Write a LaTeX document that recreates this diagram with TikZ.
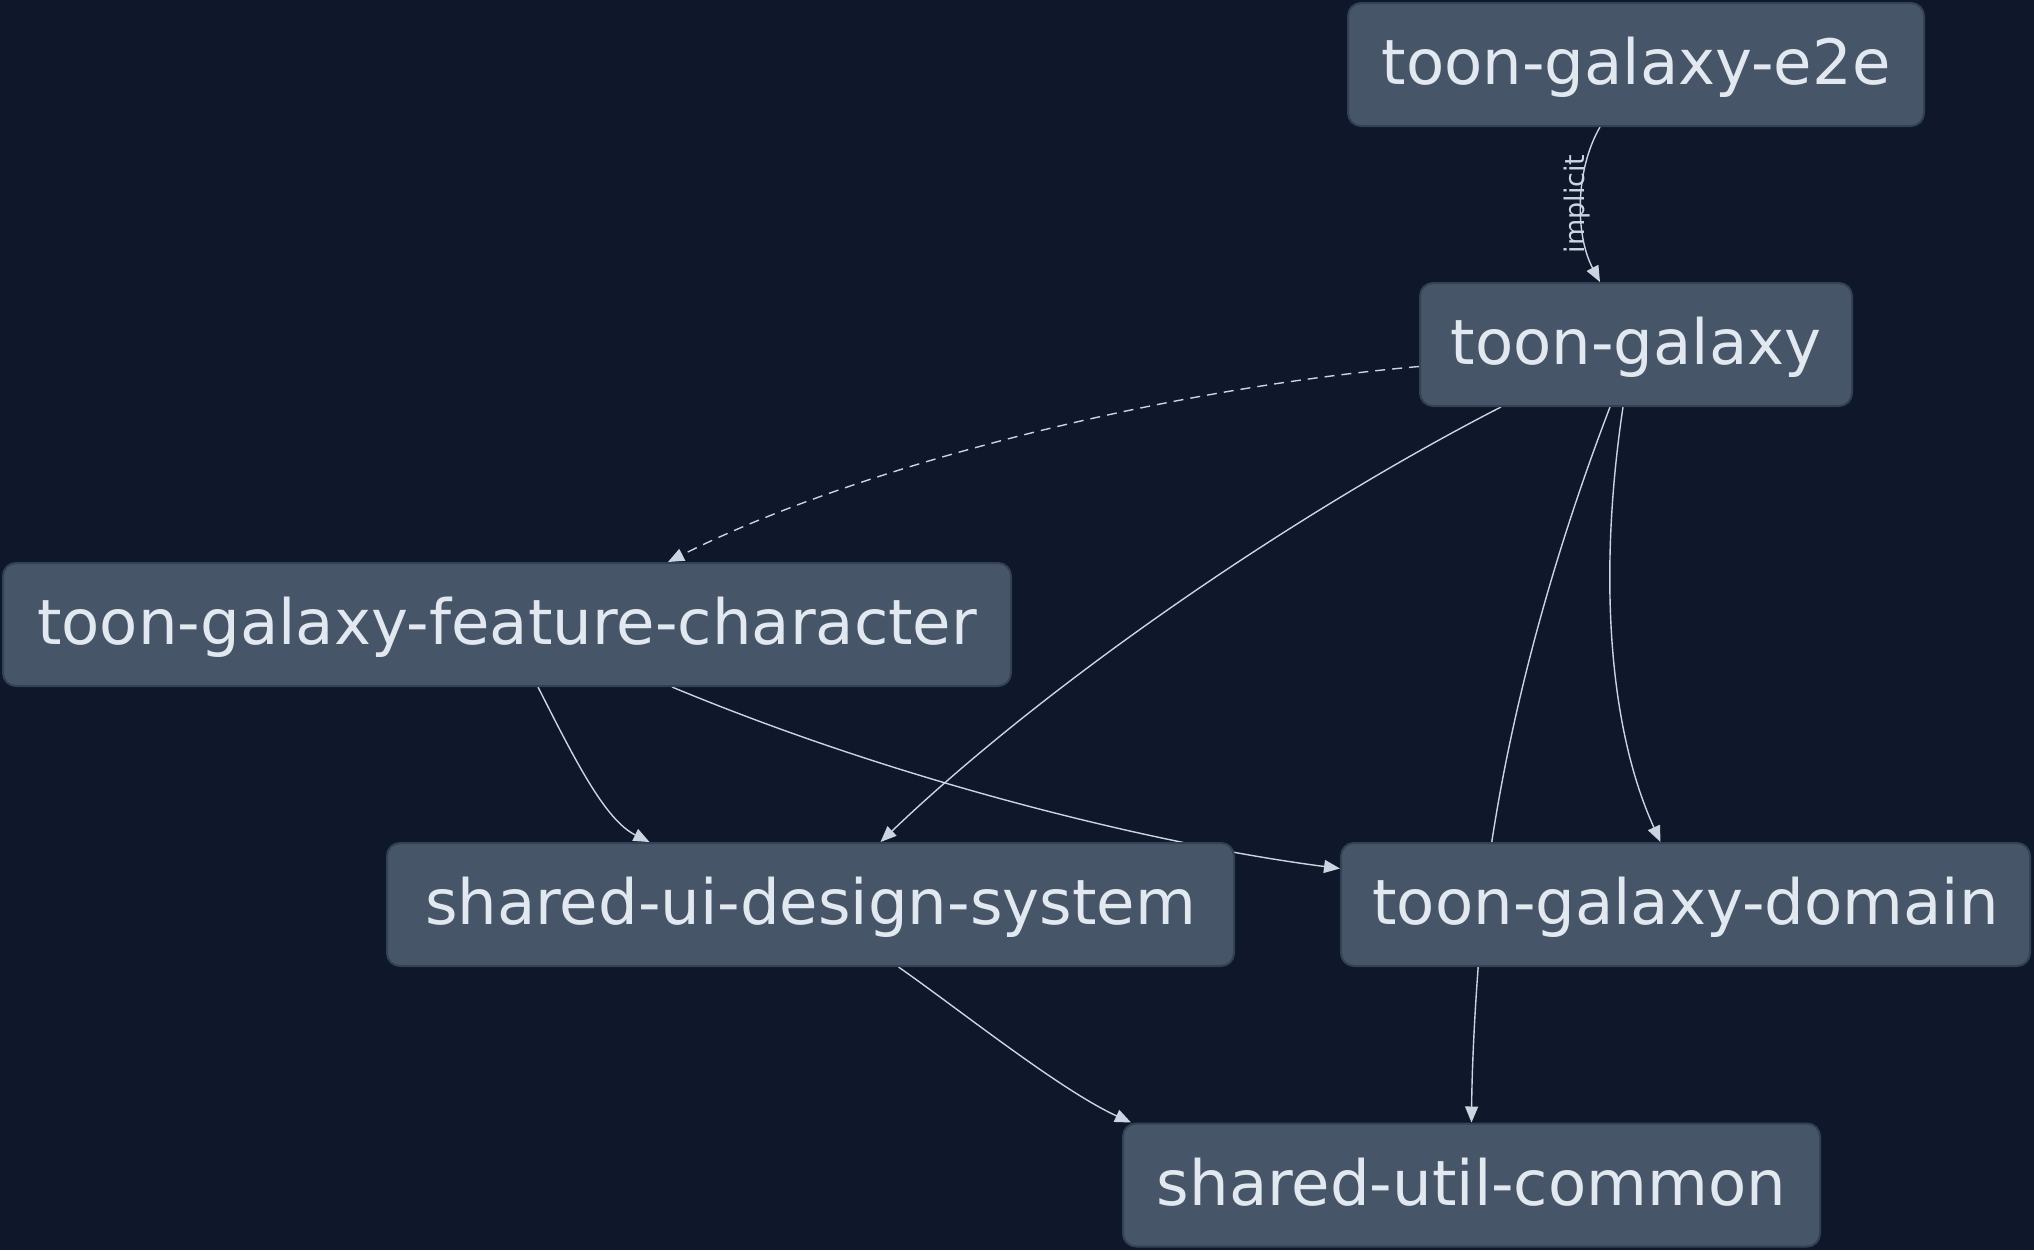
\documentclass[tikz,border=0pt]{standalone}
\usepackage{fontspec}
\setmainfont{DejaVu Sans}
\usetikzlibrary{arrows.meta}
\definecolor{bg}{HTML}{0F172A}
\definecolor{nodefill}{HTML}{475569}
\definecolor{nodeline}{HTML}{334155}
\definecolor{txt}{HTML}{E2E8F0}
\definecolor{edge}{HTML}{CBD5E1}
\pgfdeclarelayer{canvas}
\pgfdeclarelayer{edges}
\pgfsetlayers{canvas,edges,main}
\tikzset{
  box/.style={draw=nodeline, line width=2pt, fill=nodefill, rounded corners=13pt,
    text=txt, font=\fontsize{62.5}{70}\selectfont, text height=52pt, text depth=12pt,
    minimum height=123pt, inner sep=0pt, anchor=center},
  conn/.style={draw=edge, line width=1.4pt, -{Triangle[length=16pt,width=13pt]}},
  dashconn/.style={conn, dash pattern=on 10pt off 7pt},
  lbl/.style={text=edge, font=\fontsize{27}{30}\selectfont, rotate=90, inner sep=0pt}
}
\begin{document}
\begin{tikzpicture}[x=1pt,y=-1pt]
\useasboundingbox (0,0) rectangle (2034,1250);
\begin{pgfonlayer}{canvas}
\fill[bg] (0,0) rectangle (2034,1250);
\end{pgfonlayer}

\node[box, minimum width=576pt] (e2e) at (1636,64.5) {toon-galaxy-e2e};
\node[box, minimum width=432pt] (tg) at (1636,344.5) {toon-galaxy};
\node[box, minimum width=1008pt] (fc) at (507,624.5) {toon-galaxy-feature-character};
\node[box, minimum width=847pt] (ui) at (810.5,904.5) {shared-ui-design-system};
\node[box, minimum width=689pt] (dom) at (1685.5,904.5) {toon-galaxy-domain};
\node[box, minimum width=697pt] (uc) at (1471.5,1185) {shared-util-common};

\begin{pgfonlayer}{edges}
\draw[conn] ([xshift=-36pt]e2e.south) .. controls (1575,170) and (1575,235) .. ([xshift=-36pt]tg.north);
\draw[dashconn] ([yshift=-22pt]tg.west) .. controls (1150,390) and (850,470) .. ([xshift=161pt]fc.north);
\draw[conn] ([xshift=-135pt]tg.south) .. controls (1300,510) and (1050,680) .. ([xshift=70pt]ui.north);
\draw[conn] ([xshift=-26pt]tg.south) .. controls (1540,590) and (1500,760) .. (1484,900)
   .. controls (1476,980) and (1472,1060) .. (uc.north);
\draw[conn] ([xshift=-13pt]tg.south) .. controls (1600,560) and (1605,720) .. ([xshift=-25pt]dom.north);
\draw[conn] ([xshift=31pt]fc.south) .. controls (575,760) and (605,820) .. ([xshift=-161pt]ui.north);
\draw[conn] ([xshift=165pt]fc.south) .. controls (920,790) and (1180,848) .. ([yshift=36pt]dom.west);
\draw[conn] ([xshift=88pt]ui.south) .. controls (960,1010) and (1060,1090) .. ([xshift=9pt]uc.north west);
\end{pgfonlayer}
\node[lbl] (implicitlbl) at (1577,204) {implicit};
\end{tikzpicture}
\end{document}
